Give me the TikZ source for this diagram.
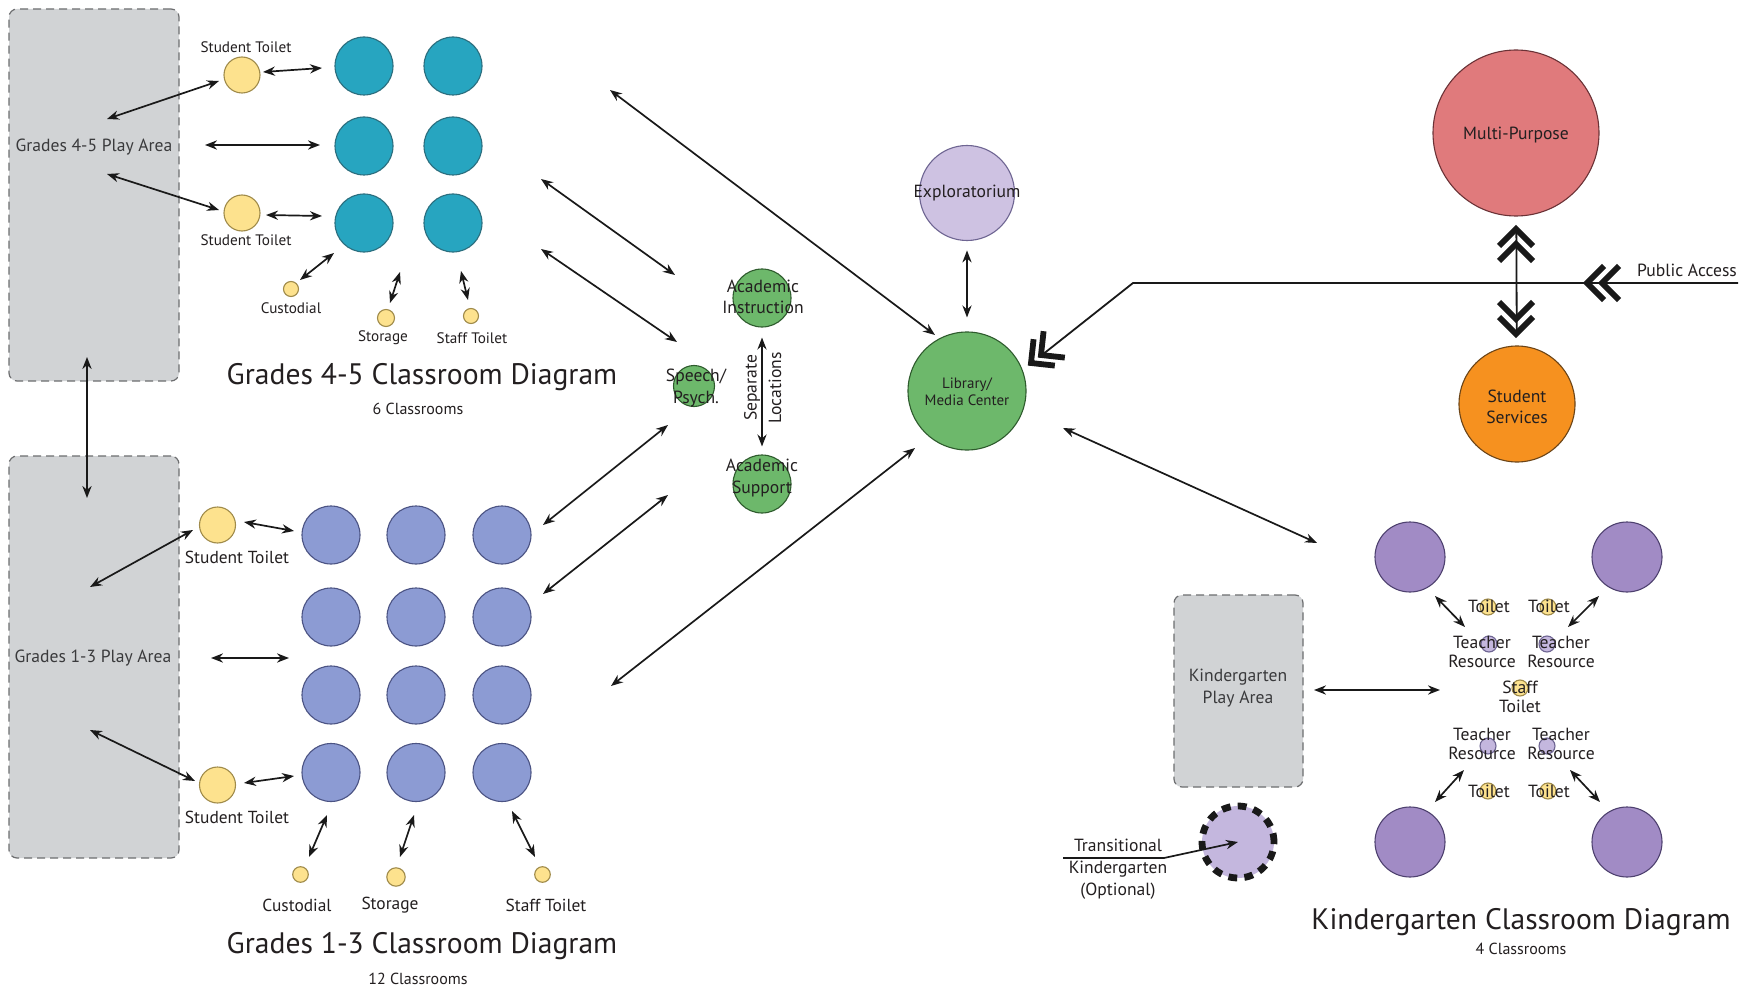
\documentclass[tikz,border=0pt]{standalone}
\usepackage{fontspec}
\setmainfont{PT Sans}
\usetikzlibrary{arrows.meta}
\definecolor{teal45}{HTML}{27A5C0}
\definecolor{tealline}{HTML}{2B6E7E}
\definecolor{blue13}{HTML}{8C9BD3}
\definecolor{blueline}{HTML}{4B5383}
\definecolor{yelfill}{HTML}{FDE28E}
\definecolor{yelline}{HTML}{A08B4A}
\definecolor{grn}{HTML}{6DB86B}
\definecolor{grnline}{HTML}{2E5B2D}
\definecolor{lav}{HTML}{CEC2E2}
\definecolor{lavline}{HTML}{6E6592}
\definecolor{mpc}{HTML}{E07A7C}
\definecolor{mpline}{HTML}{6B3236}
\definecolor{ssc}{HTML}{F6911F}
\definecolor{ssline}{HTML}{6B4417}
\definecolor{kpur}{HTML}{A18BC5}
\definecolor{kline}{HTML}{4E416F}
\definecolor{playfill}{HTML}{D1D3D5}
\definecolor{playline}{HTML}{6D6E70}
\definecolor{playtxt}{HTML}{3A3A3C}
\definecolor{txtc}{HTML}{231F20}
\definecolor{trc}{HTML}{C4B7DE}
\newcommand\fntTitle{\fontsize{14.8}{17}\selectfont}
\newcommand\fntSub{\fontsize{8}{9.6}\selectfont}
\newcommand\fntM{\fontsize{8.8}{10.6}\selectfont}
\newcommand\fntS{\fontsize{7.6}{9}\selectfont}
\newcommand\fntL{\fontsize{8.7}{10.5}\selectfont}
\newcommand\fntLib{\fontsize{7.5}{8.5}\selectfont}
\begin{document}
\begin{tikzpicture}[x=0.5pt,y=-0.5pt,
  lbl/.style={inner sep=0pt, text=txtc, align=center},
  room/.style={circle, draw, inner sep=0pt, line width=0.55pt},
  tealc/.style={room, fill=teal45, draw=tealline, minimum size=29pt},
  bluc/.style={room, fill=blue13, draw=blueline, minimum size=29pt},
  yelc/.style={room, fill=yelfill, draw=yelline},
  grnc/.style={room, fill=grn, draw=grnline},
  lavc/.style={room, fill=lav, draw=lavline},
  kc/.style={room, fill=kpur, draw=kline, minimum size=35pt},
  trcirc/.style={room, fill=trc, draw=lavline, minimum size=8pt},
  play/.style={draw=playline, fill=playfill, dash pattern=on 4pt off 2.5pt, line width=0.6pt, rounded corners=4pt, inner sep=0pt},
  biarrow/.style={{Stealth[length=6pt,width=4.6pt]}-{Stealth[length=6pt,width=4.6pt]}, line width=0.85pt, draw=black!90},
  onearrow/.style={-{Stealth[length=6pt,width=4.6pt]}, line width=0.85pt, draw=black!90},
  thinline/.style={line width=0.9pt, draw=black!90},
  chevron/.style={line width=2.9pt, line join=miter, line cap=butt, draw=black!90}
]
\useasboundingbox (0,0) rectangle (1758,990);
\fill[white] (0,0) rectangle (1758,990);

% ---------------- Grades 4-5 ----------------
\node[play, minimum width=85pt, minimum height=186pt] (play45) at (94,195) {};
\node[lbl, font=\fntM, text=playtxt] (play45lbl) at (94,147) {Grades 4-5 Play Area};
\node[yelc, minimum size=18pt] (st45a) at (242,75) {};
\node[lbl, font=\fntS] (st45albl) at (246,47) {Student Toilet};
\node[yelc, minimum size=18pt] (st45b) at (242,213) {};
\node[lbl, font=\fntS] (st45blbl) at (246,240) {Student Toilet};
\node[tealc] (t11) at (364,66) {};
\node[tealc] (t12) at (453,66) {};
\node[tealc] (t21) at (364,146) {};
\node[tealc] (t22) at (453,146) {};
\node[tealc] (t31) at (364,223) {};
\node[tealc] (t32) at (453,223) {};
\node[yelc, minimum size=7.5pt] (cu45) at (291,289) {};
\node[lbl, font=\fntS] (cu45lbl) at (291,308) {Custodial};
\node[yelc, minimum size=8.5pt] (sg45) at (386,318) {};
\node[lbl, font=\fntS] (sg45lbl) at (383,338) {Storage};
\node[yelc, minimum size=7.5pt] (sf45) at (471,316) {};
\node[lbl, font=\fntS] (sf45lbl) at (472,338) {Staff Toilet};
\node[lbl, font=\fntTitle] (title45) at (422,377) {Grades 4-5 Classroom Diagram};
\node[lbl, font=\fntSub] (sub45) at (418,409) {6 Classrooms};

\coordinate (p45a) at (107,119); \coordinate (s45a) at (219,81);
\coordinate (s45ar) at (263,72); \coordinate (t11l) at (322,68);
\coordinate (p45m) at (205,145); \coordinate (t21l) at (320,145);
\coordinate (p45b) at (107,174); \coordinate (s45b) at (219,210);
\coordinate (s45br) at (266,215); \coordinate (t31l) at (322,216);
\coordinate (cu45e) at (300,280); \coordinate (t31b) at (334,253);
\coordinate (sg45e) at (390,303); \coordinate (t31c) at (400,272);
\coordinate (sf45e) at (468,300); \coordinate (t32b) at (461,271);
\draw[biarrow] (p45a) -- (s45a);
\draw[biarrow] (s45ar) -- (t11l);
\draw[biarrow] (p45m) -- (t21l);
\draw[biarrow] (p45b) -- (s45b);
\draw[biarrow] (s45br) -- (t31l);
\draw[biarrow] (cu45e) -- (t31b);
\draw[biarrow] (sg45e) -- (t31c);
\draw[biarrow] (sf45e) -- (t32b);

% ---------------- Grades 1-3 ----------------
\node[play, minimum width=85pt, minimum height=201pt] (play13) at (94,657) {};
\node[lbl, font=\fntM, text=playtxt] (play13lbl) at (93,658) {Grades 1-3 Play Area};
\coordinate (pv1) at (87,357); \coordinate (pv2) at (87,498);
\draw[biarrow] (pv1) -- (pv2);

\node[yelc, minimum size=18pt] (st13a) at (217.5,525) {};
\node[lbl, font=\fntL] (st13albl) at (237,557) {Student Toilet};
\node[yelc, minimum size=18pt] (st13b) at (217.5,785) {};
\node[lbl, font=\fntL] (st13blbl) at (237,817) {Student Toilet};
\foreach \r/\yy in {1/535,2/617,3/695,4/772.5}{
  \node[bluc] (b\r1) at (331,\yy) {};
  \node[bluc] (b\r2) at (416,\yy) {};
  \node[bluc] (b\r3) at (502,\yy) {};
}
\node[yelc, minimum size=7.8pt] (cu13) at (300.5,874.5) {};
\node[lbl, font=\fntL] (cu13lbl) at (297,905) {Custodial};
\node[yelc, minimum size=9.2pt] (sg13) at (396,877) {};
\node[lbl, font=\fntL] (sg13lbl) at (390,905) {Storage};
\node[yelc, minimum size=7.8pt] (sf13) at (542.5,874.5) {};
\node[lbl, font=\fntL] (sf13lbl) at (546,905) {Staff Toilet};
\node[lbl, font=\fntTitle] (title13) at (422,946) {Grades 1-3 Classroom Diagram};
\node[lbl, font=\fntSub] (sub13) at (418,979) {12 Classrooms};

\coordinate (p13a) at (90,587); \coordinate (s13a) at (193,530);
\coordinate (s13ar) at (244,522); \coordinate (b11l) at (294,531);
\coordinate (p13m) at (211,658); \coordinate (bml) at (289,658);
\coordinate (p13b) at (90,730); \coordinate (s13b) at (195,781);
\coordinate (s13br) at (244,783); \coordinate (b41l) at (294,776);
\coordinate (cu13e) at (309,857); \coordinate (b41b) at (327,815);
\coordinate (sg13e) at (400,857); \coordinate (b42b) at (414,815);
\coordinate (sf13e) at (535,857); \coordinate (b43b) at (512,811);
\draw[biarrow] (p13a) -- (s13a);
\draw[biarrow] (s13ar) -- (b11l);
\draw[biarrow] (p13m) -- (bml);
\draw[biarrow] (p13b) -- (s13b);
\draw[biarrow] (s13br) -- (b41l);
\draw[biarrow] (cu13e) -- (b41b);
\draw[biarrow] (sg13e) -- (b42b);
\draw[biarrow] (sf13e) -- (b43b);

% ---------------- Middle ----------------
\node[grnc, minimum size=29pt] (ai) at (762,298) {};
\node[lbl, font=\fntM] (ailbl) at (763,297) {Academic\\Instruction};
\node[grnc, minimum size=20.5pt] (sp) at (694,386) {};
\node[lbl, font=\fntM] (splbl) at (696,388) {Speech/\\Psych.};
\node[grnc, minimum size=29pt] (as) at (762,484) {};
\node[lbl, font=\fntM] (aslbl) at (762,478) {Academic\\Support};
\draw[biarrow, shorten <=5pt, shorten >=4pt] (ai) -- (as);
\node[lbl, font=\fntM, rotate=90] (seplbl) at (752,388) {Separate};
\node[lbl, font=\fntM, rotate=90] (loclbl) at (775,388) {Locations};

\node[grnc, minimum size=59pt] (lib) at (967,391) {};
\node[lbl, font=\fntLib] (liblbl) at (967,392) {Library/\\Media Center};
\node[lavc, minimum size=47.5pt] (expl) at (967,193) {};
\node[lbl, font=\fntM] (expllbl) at (967,193) {Exploratorium};
\draw[biarrow, shorten <=4.7pt, shorten >=7pt] (expl) -- (lib);

\coordinate (a1s) at (610,90);  \coordinate (a1e) at (935,335);
\coordinate (a2s) at (541,179); \coordinate (a2e) at (675,275);
\coordinate (a3s) at (541,249); \coordinate (a3e) at (677,342);
\coordinate (a4s) at (543,525); \coordinate (a4e) at (668,425);
\coordinate (a5s) at (543,594); \coordinate (a5e) at (668,495);
\coordinate (a6s) at (611,686); \coordinate (a6e) at (915,448);
\draw[biarrow] (a1s) -- (a1e);
\draw[biarrow] (a2s) -- (a2e);
\draw[biarrow] (a3s) -- (a3e);
\draw[biarrow] (a4s) -- (a4e);
\draw[biarrow] (a5s) -- (a5e);
\draw[biarrow] (a6s) -- (a6e);

% ---------------- Right: MP, SS, public access ----------------
\node[room, fill=mpc, draw=mpline, minimum size=83pt] (mp) at (1516,133) {};
\node[lbl, font=\fntM] (mplbl) at (1516,135) {Multi-Purpose};
\node[room, fill=ssc, draw=ssline, minimum size=58pt] (ss) at (1517,404) {};
\node[lbl, font=\fntM] (sslbl) at (1517,407) {Student\\Services};
\draw[thinline, shorten <=6.5pt, shorten >=6pt] (mp) -- (ss);
\draw[chevron] (1499,246) -- (1516,229) -- (1533,246);
\draw[chevron] (1499,261) -- (1516,244) -- (1533,261);
\draw[chevron] (1499,317) -- (1516,334) -- (1533,317);
\draw[chevron] (1499,302) -- (1516,319) -- (1533,302);

\coordinate (pa1) at (1738,283);
\coordinate (pa2) at (1133,283);
\coordinate (pa3) at (1042,355);
\draw[thinline] (pa1) -- (pa2) -- (pa3);
\draw[chevron] (1604,266) -- (1587,283) -- (1604,300);
\draw[chevron] (1619,266) -- (1602,283) -- (1619,300);
\draw[chevron] (1033.6,339.2) -- (1031,363) -- (1054.8,365.6);
\draw[chevron] (1043.6,331.2) -- (1041,355) -- (1064.8,357.6);
\node[lbl, font=\fntM] (palbl) at (1687,270) {Public Access};

\coordinate (lks) at (1063,428); \coordinate (lke) at (1317,543);
\draw[biarrow] (lks) -- (lke);

% ---------------- Kindergarten ----------------
\node[play, minimum width=64.5pt, minimum height=96pt] (kplay) at (1238.5,691) {};
\node[lbl, font=\fntM, text=playtxt] (kplaylbl) at (1238,688) {Kindergarten\\Play Area};
\node[kc] (k1) at (1410,557) {};
\node[kc] (k2) at (1627,557) {};
\node[kc] (k3) at (1410,842) {};
\node[kc] (k4) at (1627,842) {};
\node[yelc, minimum size=8pt] (kt1) at (1488,607) {};
\node[yelc, minimum size=8pt] (kt2) at (1548,607) {};
\node[trcirc] (tr1) at (1489,644) {};
\node[trcirc] (tr2) at (1547,644) {};
\node[yelc, minimum size=8pt] (kst) at (1520,688) {};
\node[trcirc] (tr3) at (1488,746) {};
\node[trcirc] (tr4) at (1547,746) {};
\node[yelc, minimum size=8pt] (kt3) at (1488,791) {};
\node[yelc, minimum size=8pt] (kt4) at (1548,791) {};
\node[lbl, font=\fntM] at (1489,606) {Toilet};
\node[lbl, font=\fntM] at (1549,606) {Toilet};
\node[lbl, font=\fntM, font={\fontsize{8.8}{9.6}\selectfont}] at (1482,652) {Teacher\\Resource};
\node[lbl, font=\fntM, font={\fontsize{8.8}{9.6}\selectfont}] at (1561,652) {Teacher\\Resource};
\node[lbl, font={\fontsize{8.8}{9.6}\selectfont}] at (1520,697) {Staff\\Toilet};
\node[lbl, font={\fontsize{8.8}{9.6}\selectfont}] at (1482,744) {Teacher\\Resource};
\node[lbl, font={\fontsize{8.8}{9.6}\selectfont}] at (1561,744) {Teacher\\Resource};
\node[lbl, font=\fntM] at (1489,791) {Toilet};
\node[lbl, font=\fntM] at (1549,791) {Toilet};

\coordinate (kp1) at (1314,690); \coordinate (kp2) at (1440,690);
\coordinate (ka1) at (1435,596); \coordinate (ka2) at (1465,627);
\coordinate (kb1) at (1599,596); \coordinate (kb2) at (1568,627);
\coordinate (kc1) at (1464,770); \coordinate (kc2) at (1435,802);
\coordinate (kd1) at (1570,770); \coordinate (kd2) at (1600,802);
\draw[biarrow] (kp1) -- (kp2);
\draw[biarrow] (ka1) -- (ka2);
\draw[biarrow] (kb1) -- (kb2);
\draw[biarrow] (kc1) -- (kc2);
\draw[biarrow] (kd1) -- (kd2);

\node[circle, inner sep=0pt, minimum size=36pt, fill=trc, draw=black!90, line width=3.4pt, dash pattern=on 4.4pt off 3.6pt] (tk) at (1238,842) {};
\node[lbl, font={\fontsize{8.8}{11}\selectfont}] (tklbl) at (1118,869) {Transitional\\Kindergarten\\(Optional)};
\coordinate (tkl) at (1063,858); \coordinate (tkm) at (1164,858);
\draw[line width=0.7pt, draw=black!90] (tkl) -- (tkm);
\draw[onearrow] (tkm) -- (tk.center);

\node[lbl, font=\fntTitle] (titlek) at (1521,922) {Kindergarten Classroom Diagram};
\node[lbl, font=\fntSub] (subk) at (1521,949) {4 Classrooms};
\end{tikzpicture}
\end{document}
